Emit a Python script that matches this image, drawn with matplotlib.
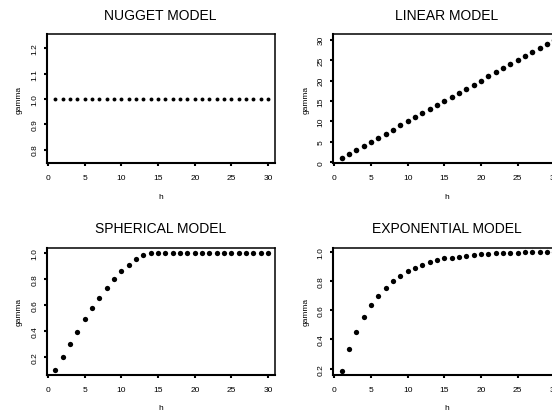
import matplotlib
matplotlib.use("Agg")
import matplotlib.pyplot as plt

plt.rcParams["font.family"] = ["Liberation Sans", "DejaVu Sans"]

# lag distances
h = list(range(1, 31))

# semivariogram values
nugget = [1.0] * 30
linear = [1, 2, 3, 4, 5, 6, 7, 8, 9, 10, 11, 12, 13, 14, 15,
          16, 17, 18, 19, 20, 21, 22, 23, 24, 25, 26, 27, 28, 29, 30]
spherical = [0.10, 0.20, 0.30, 0.395, 0.49, 0.578, 0.655, 0.731, 0.80, 0.862,
             0.912, 0.953, 0.985, 1.0, 1.0, 1.0, 1.0, 1.0, 1.0, 1.0,
             1.0, 1.0, 1.0, 1.0, 1.0, 1.0, 1.0, 1.0, 1.0, 1.0]
exponential = [0.181, 0.331, 0.452, 0.551, 0.632, 0.699, 0.754, 0.798, 0.834, 0.865,
               0.888, 0.909, 0.927, 0.942, 0.953, 0.959, 0.966, 0.973, 0.977, 0.981,
               0.985, 0.987, 0.989, 0.991, 0.993, 0.994, 0.995, 0.996, 0.997, 0.997]

titles = ["NUGGET MODEL", "LINEAR MODEL", "SPHERICAL MODEL", "EXPONENTIAL MODEL"]
series = [nugget, linear, spherical, exponential]
yticks = [[0.8, 0.9, 1.0, 1.1, 1.2],
          [0, 5, 10, 15, 20, 25, 30],
          [0.2, 0.4, 0.6, 0.8, 1.0],
          [0.2, 0.4, 0.6, 0.8, 1.0]]
ylims = [(0.746, 1.255), (-0.25, 31.3), (0.064, 1.045), (0.16, 1.028)]
msizes = [2.8, 4.0, 3.8, 3.8]

W, H = 552, 414
# axes boxes in pixels: left, top, width, height
boxes = [(46.7, 35.3, 228, 129),
         (333.0, 35.3, 228, 129),
         (46.7, 248.5, 228, 127),
         (333.0, 248.5, 228, 127)]

fig = plt.figure(figsize=(W / 100, H / 100), dpi=100)

for i in range(4):
    l, t, w, hh = boxes[i]
    ax = fig.add_axes([l / W, 1 - (t + hh) / H, w / W, hh / H])
    ax.plot(h, series[i], "o", color="black", markersize=msizes[i], markeredgewidth=0)
    ax.set_xlim(-0.2, 30.9)
    ax.set_ylim(*ylims[i])
    ax.set_xticks([0, 5, 10, 15, 20, 25, 30])
    ax.set_yticks(yticks[i])
    ax.set_yticklabels([str(v) for v in yticks[i]], rotation=90, va="center")
    ax.tick_params(length=2, width=1.5, direction="out", labelsize=6, pad=4)
    ax.tick_params(axis="x", pad=6)
    for s in ["left", "bottom"]:
        ax.spines[s].set_linewidth(1.5)
    for s in ["top", "right"]:
        ax.spines[s].set_linewidth(1.1)
    ax.set_xlabel("h", fontsize=6, labelpad=8)
    ax.set_ylabel("gamma", fontsize=6, labelpad=6)
    ax.set_title(titles[i], fontsize=10, pad=11)

fig.savefig("out.png", dpi=100)
